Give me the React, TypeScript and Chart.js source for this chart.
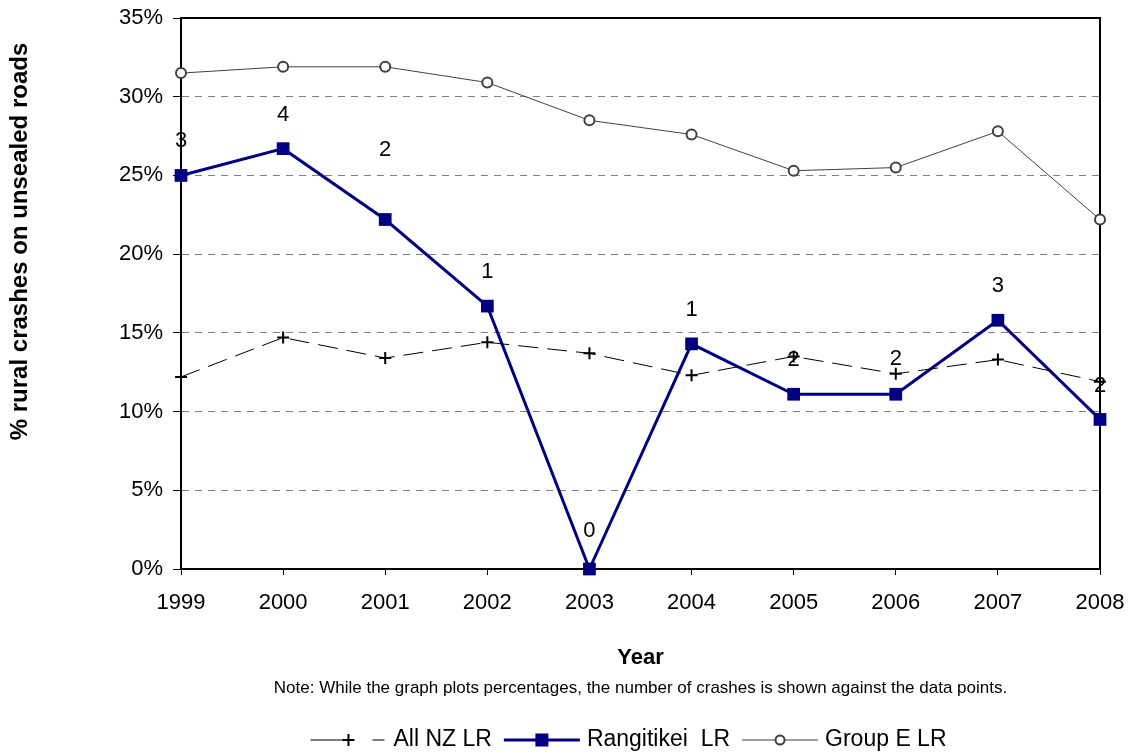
import React, { useEffect, useRef } from "react";
import { Chart, registerables } from "chart.js";

Chart.register(...registerables);

const years = ["1999", "2000", "2001", "2002", "2003", "2004", "2005", "2006", "2007", "2008"];
const allNzLR = [12.2, 14.7, 13.4, 14.4, 13.7, 12.3, 13.5, 12.4, 13.3, 11.9];
const rangitikeiLR = [25.0, 26.7, 22.2, 16.7, 0, 14.3, 11.1, 11.1, 15.8, 9.5];
const groupELR = [31.5, 31.9, 31.9, 30.9, 28.5, 27.6, 25.3, 25.5, 27.8, 22.2];
const rangitikeiCrashes = [3, 4, 2, 1, 0, 1, 2, 2, 3, 2];
const seriesNames = ["All NZ LR", "Rangitikei  LR", "Group E LR"];

// label placement (style only): pixels above each Rangitikei point
const labelLift = [34, 34, 70, 34, 38, 34, 34, 35, 34, 34];

const FONT = "'Liberation Sans', Arial, sans-serif";
const NAVY = "#000080";

function drawMarker(ctx: CanvasRenderingContext2D, kind: string, x: number, y: number) {
  ctx.save();
  if (kind === "cross") {
    ctx.strokeStyle = "#000";
    ctx.lineWidth = 2;
    ctx.setLineDash([]);
    ctx.beginPath();
    ctx.moveTo(x - 6, y);
    ctx.lineTo(x + 6, y);
    ctx.moveTo(x, y - 6);
    ctx.lineTo(x, y + 6);
    ctx.stroke();
  } else if (kind === "rect") {
    ctx.fillStyle = NAVY;
    ctx.fillRect(x - 6.5, y - 6.5, 13, 13);
  } else {
    ctx.fillStyle = "#fff";
    ctx.strokeStyle = "#404040";
    ctx.lineWidth = 2;
    ctx.beginPath();
    ctx.arc(x, y, 4.5, 0, Math.PI * 2);
    ctx.fill();
    ctx.stroke();
  }
  ctx.restore();
}

const decorPlugin = {
  id: "decor",
  beforeDatasetsDraw(chart: any) {
    const { ctx, chartArea } = chart;
    const { left, right, top, bottom } = chartArea;
    ctx.save();
    ctx.strokeStyle = "#000";
    ctx.lineWidth = 2;
    ctx.setLineDash([]);
    ctx.beginPath();
    ctx.moveTo(left, top);
    ctx.lineTo(right, top);
    ctx.lineTo(right, bottom);
    ctx.lineTo(left, bottom);
    ctx.closePath();
    ctx.stroke();
    ctx.restore();
  },
  afterDatasetsDraw(chart: any) {
    const { ctx } = chart;
    const meta = chart.getDatasetMeta(1);
    ctx.save();
    ctx.fillStyle = "#000";
    ctx.font = `22px ${FONT}`;
    ctx.textAlign = "center";
    ctx.textBaseline = "middle";
    meta.data.forEach((pt: any, i: number) => {
      ctx.fillText(String(rangitikeiCrashes[i]), pt.x, pt.y - labelLift[i]);
    });
    ctx.restore();
  },
  afterDraw(chart: any) {
    const { ctx, chartArea } = chart;
    const midX = (chartArea.left + chartArea.right) / 2;
    ctx.save();
    // y axis title
    ctx.translate(20, (chartArea.top + chartArea.bottom) / 2 - 52);
    ctx.rotate(-Math.PI / 2);
    ctx.font = `bold 24px ${FONT}`;
    ctx.fillStyle = "#000";
    ctx.textAlign = "center";
    ctx.textBaseline = "middle";
    ctx.fillText("% rural crashes on unsealed roads", 0, 0);
    ctx.restore();

    // note
    ctx.save();
    ctx.font = `17px ${FONT}`;
    ctx.fillStyle = "#000";
    ctx.textAlign = "center";
    ctx.textBaseline = "middle";
    ctx.fillText(
      "Note: While the graph plots percentages, the number of crashes is shown against the data points.",
      midX,
      chartArea.bottom + 119
    );
    ctx.restore();

    // legend
    const kinds = ["cross", "rect", "circle"];
    const symW = 76;
    const txtGap = 7;
    const itemGap = 12;
    ctx.save();
    ctx.font = `23px ${FONT}`;
    const widths = seriesNames.map((n) => ctx.measureText(n).width);
    const total = widths.reduce((a, b) => a + b, 0) + 3 * (symW + txtGap) + 2 * itemGap;
    let x = midX - 12 - total / 2;
    const y = chartArea.bottom + 171;
    seriesNames.forEach((name, i) => {
      ctx.save();
      if (i === 0) {
        ctx.strokeStyle = "#000";
        ctx.lineWidth = 1;
        ctx.setLineDash([34, 28, 12, 100]);
      } else if (i === 1) {
        ctx.strokeStyle = NAVY;
        ctx.lineWidth = 3;
      } else {
        ctx.strokeStyle = "#404040";
        ctx.lineWidth = 1;
      }
      ctx.beginPath();
      ctx.moveTo(x, y);
      ctx.lineTo(x + symW, y);
      ctx.stroke();
      ctx.restore();
      drawMarker(ctx, kinds[i], x + symW / 2, y);
      x += symW + txtGap;
      ctx.fillStyle = "#000";
      ctx.textAlign = "left";
      ctx.textBaseline = "middle";
      ctx.fillText(name, x, y);
      x += widths[i] + itemGap;
    });
    ctx.restore();
  },
};

export default function App() {
  const canvasRef = useRef<HTMLCanvasElement | null>(null);

  useEffect(() => {
    document.body.style.margin = "0";
    const canvas = canvasRef.current;
    if (!canvas) return;
    const chart = new Chart(canvas, {
      type: "line",
      data: {
        labels: years,
        datasets: [
          {
            label: seriesNames[0],
            data: allNzLR,
            borderColor: "#000",
            borderWidth: 1,
            borderDash: [20, 9],
            pointStyle: "cross",
            pointRadius: 6,
            pointBorderWidth: 2,
            pointBorderColor: "#000",
            backgroundColor: "#000",
            tension: 0,
            clip: false,
          },
          {
            label: seriesNames[1],
            data: rangitikeiLR,
            borderColor: NAVY,
            borderWidth: 3,
            pointStyle: "rect",
            pointRadius: 9,
            pointBorderWidth: 0,
            pointBackgroundColor: NAVY,
            pointBorderColor: NAVY,
            backgroundColor: NAVY,
            tension: 0,
            clip: false,
          },
          {
            label: seriesNames[2],
            data: groupELR,
            borderColor: "#404040",
            borderWidth: 1,
            pointStyle: "circle",
            pointRadius: 5,
            pointBorderWidth: 2,
            pointBorderColor: "#404040",
            pointBackgroundColor: "#fff",
            backgroundColor: "#fff",
            tension: 0,
            clip: false,
          },
        ],
      },
      options: {
        responsive: false,
        animation: false,
        devicePixelRatio: 1,
        layout: { padding: { left: 0, right: 29, top: 18, bottom: 83 } },
        plugins: {
          legend: { display: false },
          tooltip: { enabled: false },
        },
        scales: {
          x: {
            type: "category",
            offset: false,
            grid: {
              drawOnChartArea: false,
              drawTicks: true,
              tickLength: 6,
              tickColor: "#000",
              tickWidth: 1,
            },
            border: { display: true, color: "#000", width: 2 },
            ticks: {
              color: "#000",
              padding: 15,
              maxRotation: 0,
              autoSkip: false,
              font: { family: FONT, size: 22 },
            },
            title: {
              display: true,
              text: "Year",
              color: "#000",
              padding: 0,
              font: { family: FONT, size: 22, weight: "bold" },
            },
            afterFit: (scale: any) => {
              scale.height = 102;
              scale.paddingLeft = 0;
              scale.paddingRight = 0;
            },
          },
          y: {
            min: 0,
            max: 35,
            grid: {
              color: "#808080",
              lineWidth: 1,
              drawTicks: true,
              tickLength: 8,
              tickColor: "#000",
              tickWidth: 1,
              tickBorderDash: [1, 0],
            },
            border: { display: true, color: "#000", width: 2, dash: [7, 6] },
            ticks: {
              stepSize: 5,
              color: "#000",
              padding: 10,
              font: { family: FONT, size: 22 },
              callback: (v: any) => `${v}%`,
            },
            afterFit: (scale: any) => {
              scale.width = 181;
              scale.paddingTop = 0;
              scale.paddingBottom = 0;
            },
          },
        },
      },
      plugins: [decorPlugin],
    });
    return () => chart.destroy();
  }, []);

  return (
    <div style={{ width: 1129, height: 754, background: "#fff" }}>
      <canvas ref={canvasRef} width={1129} height={754} />
    </div>
  );
}
